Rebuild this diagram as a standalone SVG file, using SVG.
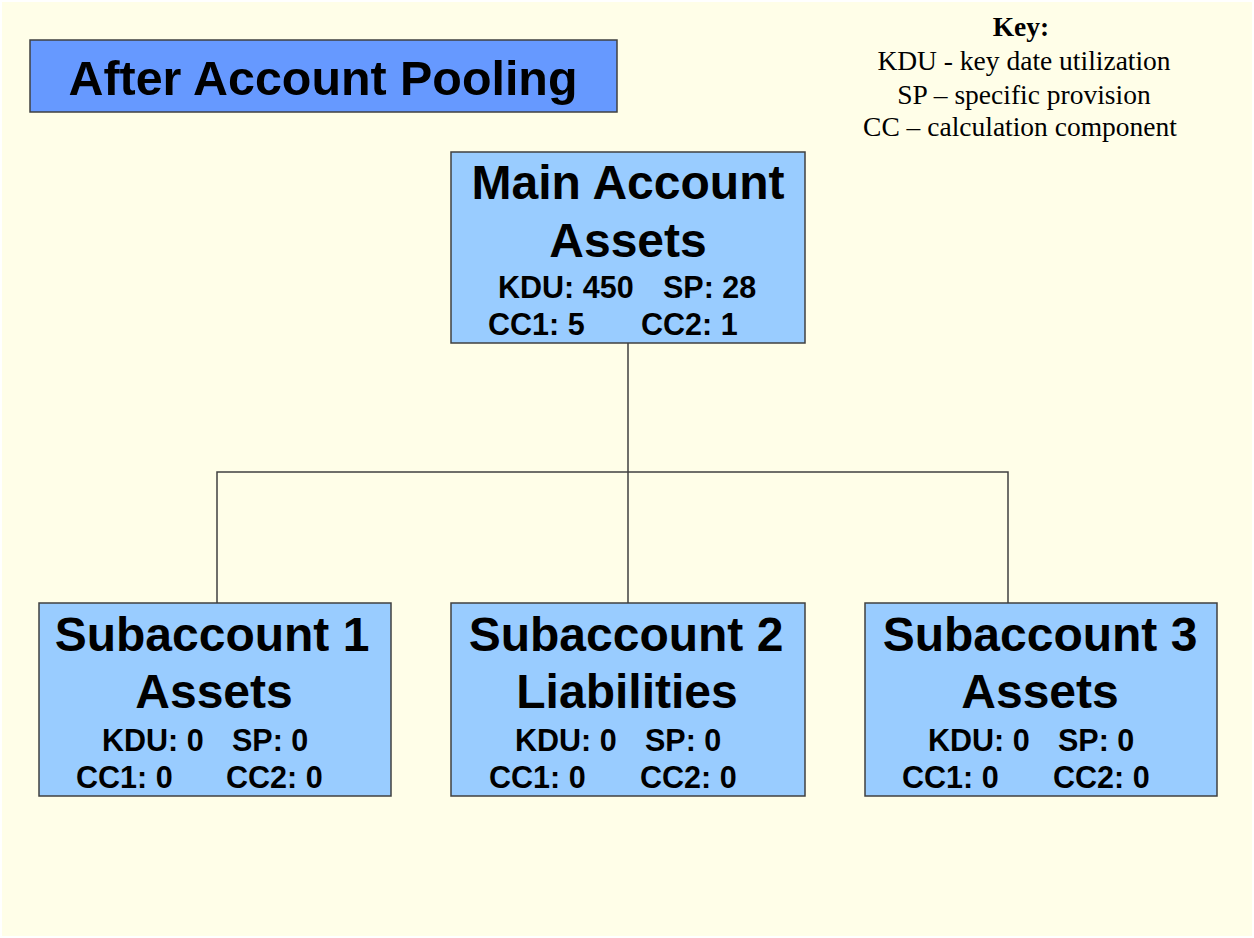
<svg xmlns="http://www.w3.org/2000/svg" width="1254" height="938" viewBox="0 0 1254 938">
<style>
.bg{fill:#FFFEE8}
.box{fill:#99CCFF;stroke:#404040;stroke-width:1.5}
.title{fill:#6699FF;stroke:#404040;stroke-width:1.5}
.h{font-family:"Liberation Sans",Arial,sans-serif;font-weight:bold;font-size:48px;fill:#000;text-anchor:middle}
.v{font-family:"Liberation Sans",Arial,sans-serif;font-weight:bold;font-size:30.5px;fill:#000}
.k{font-family:"Liberation Serif","Times New Roman",serif;font-size:27.5px;fill:#000;text-anchor:middle}
.conn{fill:none;stroke:#404040;stroke-width:1.5}
</style>
<rect x="0" y="0" width="1254" height="938" fill="#ffffff"/>
<rect class="bg" x="2" y="2" width="1250" height="934"/>
<g id="title">
<rect class="title" x="30" y="40" width="587" height="72"/>
<text class="h" x="323" y="95" textLength="509" lengthAdjust="spacingAndGlyphs">After Account Pooling</text>
</g>
<g id="key">
<text class="k" x="1021" y="36" font-weight="bold">Key:</text>
<text class="k" x="1024" y="70">KDU - key date utilization</text>
<text class="k" x="1024" y="104">SP – specific provision</text>
<text class="k" x="1020" y="136">CC – calculation component</text>
</g>
<g id="connectors">
<path class="conn" d="M628 343 V603 M217 603 V472 H1008 V603"/>
</g>
<g id="main">
<rect class="box" x="451" y="152" width="354" height="191"/>
<text class="h" x="628" y="199">Main Account</text>
<text class="h" x="628" y="257">Assets</text>
<text class="v" x="498" y="298">KDU: 450</text>
<text class="v" x="663" y="298">SP: 28</text>
<text class="v" x="488" y="335">CC1: 5</text>
<text class="v" x="641" y="335">CC2: 1</text>
</g>
<g id="sub1">
<rect class="box" x="39" y="603" width="352" height="193"/>
<text class="h" x="212" y="651">Subaccount 1</text>
<text class="h" x="214" y="708">Assets</text>
<text class="v" x="102" y="751">KDU: 0</text>
<text class="v" x="232" y="751">SP: 0</text>
<text class="v" x="76" y="788">CC1: 0</text>
<text class="v" x="226" y="788">CC2: 0</text>
</g>
<g id="sub2">
<rect class="box" x="451" y="603" width="354" height="193"/>
<text class="h" x="626" y="651">Subaccount 2</text>
<text class="h" x="627" y="708">Liabilities</text>
<text class="v" x="515" y="751">KDU: 0</text>
<text class="v" x="645" y="751">SP: 0</text>
<text class="v" x="489" y="788">CC1: 0</text>
<text class="v" x="640" y="788">CC2: 0</text>
</g>
<g id="sub3">
<rect class="box" x="865" y="603" width="352" height="193"/>
<text class="h" x="1040" y="651">Subaccount 3</text>
<text class="h" x="1040" y="708">Assets</text>
<text class="v" x="928" y="751">KDU: 0</text>
<text class="v" x="1058" y="751">SP: 0</text>
<text class="v" x="902" y="788">CC1: 0</text>
<text class="v" x="1053" y="788">CC2: 0</text>
</g>
</svg>
